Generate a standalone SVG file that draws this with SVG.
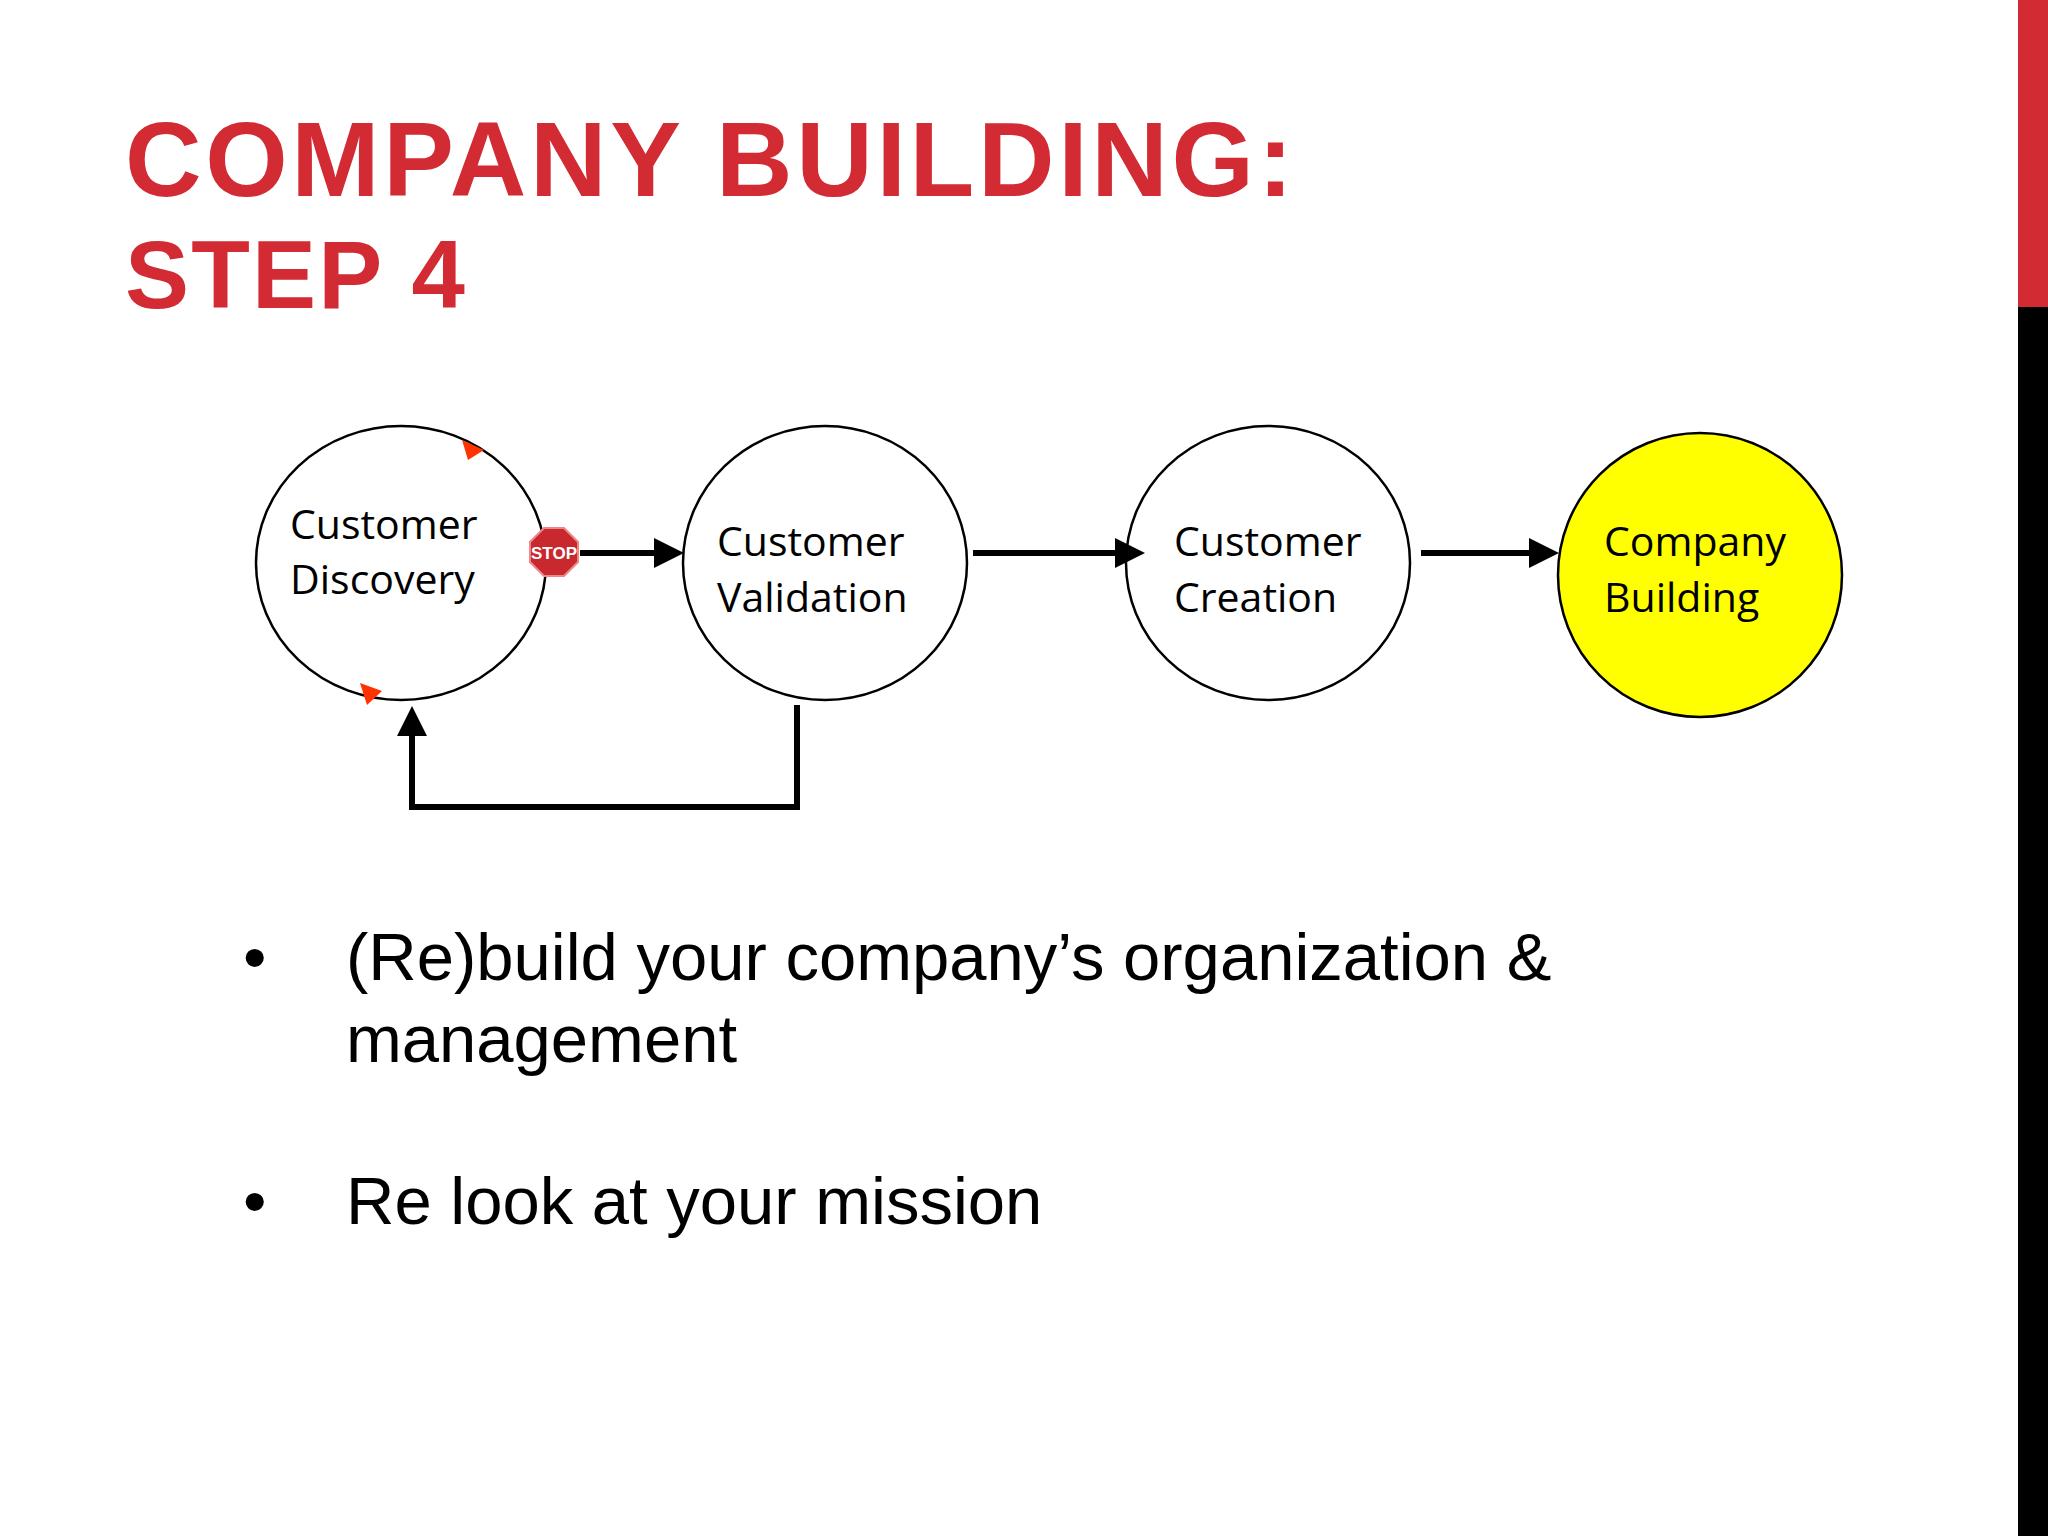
<svg xmlns="http://www.w3.org/2000/svg" width="2048" height="1536" viewBox="0 0 2048 1536">
<defs>
<style>
.title{font-family:"Liberation Sans",Arial,sans-serif;font-weight:900;fill:#d22b33}
.node{fill:#fff;stroke:#000;stroke-width:2.5}
.lbl{font-family:"Open Sans","Liberation Sans",sans-serif;font-size:41px;fill:#000}
.body{font-family:"Liberation Sans",Arial,sans-serif;font-size:67px;fill:#000}
.conn{stroke:#000;stroke-width:6;fill:none}
</style>
<marker id="ah" markerWidth="5" markerHeight="5" refX="4" refY="2.5" orient="auto" markerUnits="strokeWidth"><path d="M0,0L5,2.5L0,5z" fill="#000"/></marker>
</defs>
<rect width="2048" height="1536" fill="#fff"/>
<rect x="2018" y="0" width="30" height="307" fill="#d22b33"/>
<rect x="2018" y="307" width="30" height="1229" fill="#000"/>
<text class="title" x="125" y="196" font-size="106" textLength="1168">COMPANY BUILDING:</text>
<text class="title" x="125" y="308" font-size="96" textLength="340">STEP 4</text>
<g id="n1"><ellipse class="node" cx="401" cy="563" rx="145" ry="137"/>
<text class="lbl" x="290" y="539">Customer</text><text class="lbl" x="290" y="594">Discovery</text>
<path d="M462,440l22,10l-16,10z" fill="#ff3300"/><path d="M360,683l22,8l-15,14z" fill="#ff3300"/></g>
<g id="n2"><ellipse class="node" cx="825" cy="563" rx="142" ry="137"/>
<text class="lbl" x="717" y="556">Customer</text><text class="lbl" x="717" y="612">Validation</text></g>
<g id="n3"><ellipse class="node" cx="1268" cy="563" rx="142" ry="137"/>
<text class="lbl" x="1174" y="556">Customer</text><text class="lbl" x="1174" y="612">Creation</text></g>
<g id="n4"><ellipse class="node" cx="1700" cy="575" rx="142" ry="142" style="fill:#ffff00"/>
<text class="lbl" x="1604" y="556">Company</text><text class="lbl" x="1604" y="612">Building</text></g>
<g id="stop"><polygon points="544,528 564,528 578,542 578,562 564,576 544,576 530,562 530,542" fill="#c8282e" stroke="#e88" stroke-width="2"/>
<text x="554" y="559" font-family="Liberation Sans,sans-serif" font-size="17" font-weight="bold" fill="#fff" text-anchor="middle">STOP</text></g>
<g id="connectors">
<line class="conn" x1="580" y1="553" x2="678" y2="553" marker-end="url(#ah)"/>
<line class="conn" x1="973" y1="553" x2="1139" y2="553" marker-end="url(#ah)"/>
<line class="conn" x1="1421" y1="553" x2="1553" y2="553" marker-end="url(#ah)"/>
<polyline class="conn" points="797,705 797,807 412,807 412,712" marker-end="url(#ah)"/>
</g>
<text class="body" x="243" y="980">•</text><text class="body" x="346" y="980">(Re)build your company’s organization &amp;</text>
<text class="body" x="346" y="1062">management</text>
<text class="body" x="243" y="1224">•</text><text class="body" x="346" y="1224">Re look at your mission</text>
</svg>
